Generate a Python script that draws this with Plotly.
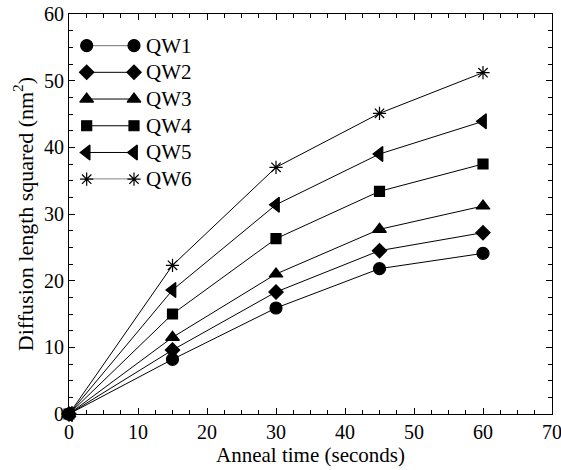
import plotly.graph_objects as go

anneal_time = [0, 15, 30, 45, 60]
series_names = ["QW1", "QW2", "QW3", "QW4", "QW5", "QW6"]
qw1 = [0, 8.2, 15.9, 21.8, 24.1]
qw2 = [0, 9.6, 18.3, 24.5, 27.2]
qw3 = [0, 11.5, 21.0, 27.7, 31.2]
qw4 = [0, 15.0, 26.3, 33.4, 37.5]
qw5 = [0, 18.6, 31.4, 39.0, 43.9]
qw6 = [0, 22.3, 37.0, 45.1, 51.2]
series_values = [qw1, qw2, qw3, qw4, qw5, qw6]
symbols = ["circle", "diamond", "triangle-up", "square", "triangle-left", "asterisk-open"]
sizes = [12, 11, 12, 10, 13, 11]
x_ticks = [0, 10, 20, 30, 40, 50, 60, 70]
y_ticks = [0, 10, 20, 30, 40, 50, 60]

FONT = "Liberation Serif"
fig = go.Figure()

for name, vals, sym, sz in zip(series_names, series_values, symbols, sizes):
    fig.add_trace(go.Scatter(
        x=anneal_time, y=vals, name=name, mode="lines+markers",
        line=dict(color="black", width=1),
        marker=dict(symbol=sym, size=sz, color="black",
                    line=dict(color="black", width=1.2)),
        showlegend=False, cliponaxis=False,
    ))

# custom legend on overlay axes: rows 0, -1, ..., -5
for i, (name, sym, sz) in enumerate(zip(series_names, symbols, sizes)):
    yy = -i
    fig.add_trace(go.Scatter(
        x=[0, 1], y=[yy, yy], mode="lines+markers", xaxis="x2", yaxis="y2",
        line=dict(color="black", width=1),
        marker=dict(symbol=sym, size=sz, color="black",
                    line=dict(color="black", width=1.2)),
        showlegend=False, hoverinfo="skip", cliponaxis=False,
    ))
    fig.add_annotation(x=1, y=yy, xref="x2", yref="y2", text=name,
                       showarrow=False, xanchor="left", xshift=10,
                       font=dict(family=FONT, size=21, color="black"))

axis_common = dict(
    showline=True, linecolor="black", linewidth=1.2, mirror="ticks",
    ticks="inside", ticklen=6, tickcolor="black", tickwidth=1,
    showgrid=False, zeroline=False, automargin=False,
    ticklabeloverflow="allow",
    tickfont=dict(family=FONT, size=20, color="black"),
)

fig.update_layout(
    width=561, height=470,
    margin=dict(l=69, r=9, t=13.5, b=56),
    plot_bgcolor="white", paper_bgcolor="white",
    xaxis=dict(range=[0, 70], tickvals=x_ticks,
               minor=dict(dtick=2.5, ticks="inside", ticklen=4, tickcolor="black"),
               title=dict(text="Anneal time (seconds)", standoff=2,
                          font=dict(family=FONT, size=21, color="black")),
               **axis_common),
    yaxis=dict(range=[0, 60], tickvals=y_ticks,
               minor=dict(dtick=2.5, ticks="inside", ticklen=4, tickcolor="black"),
               title=dict(text="Diffusion length squared (nm<sup>2</sup>)", standoff=4,
                          font=dict(family=FONT, size=22, color="black")),
               **axis_common),
    xaxis2=dict(domain=[0.0366, 0.1346], range=[0, 1], visible=False, anchor="y2"),
    yaxis2=dict(domain=[0.587, 0.921], range=[-5, 0], visible=False, anchor="x2"),
)

# remove the browser's default 8px body margin so the figure fills the window
fig.write_html("out.html", config={"displayModeBar": False},
               post_script="document.body.style.margin='0';")
